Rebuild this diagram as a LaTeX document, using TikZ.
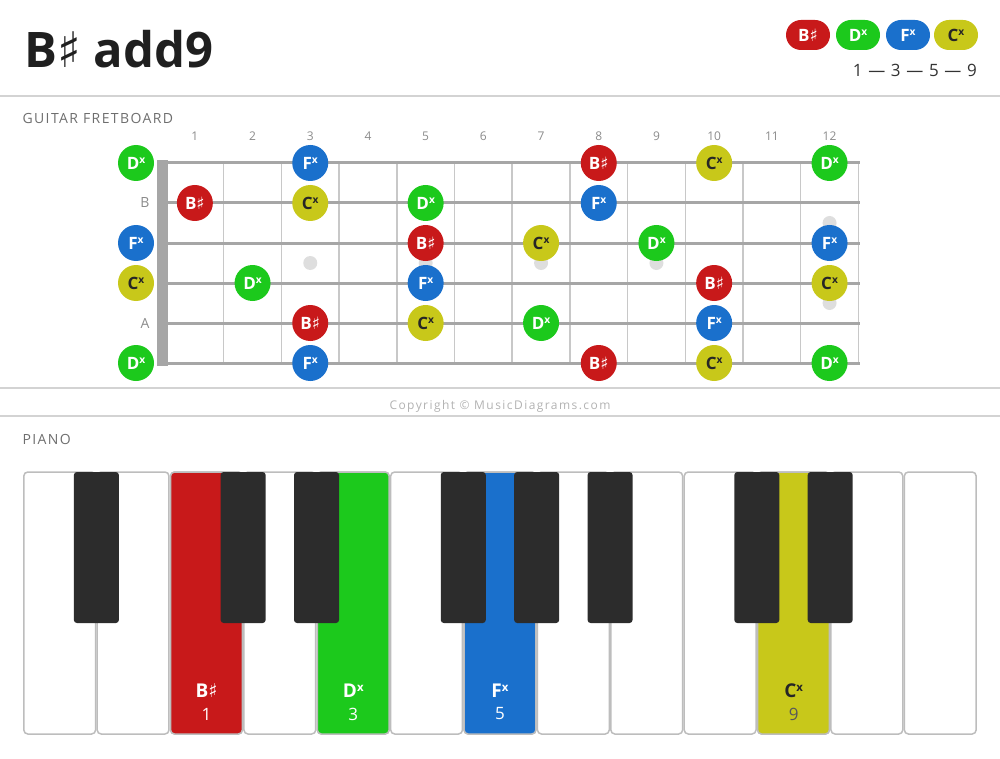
\documentclass[tikz,border=0pt]{standalone}
\usepackage{fontspec}
\setmainfont{Open Sans}
\newfontfamily\symfont{DejaVu Sans}

\definecolor{rootred}{HTML}{C8191A}
\definecolor{thirdgreen}{HTML}{1CC91C}
\definecolor{fifthblue}{HTML}{1A70CC}
\definecolor{ninthyellow}{HTML}{C8C81A}
\definecolor{rulegray}{HTML}{D3D3D3}
\definecolor{labelgray}{HTML}{6E6E6E}
\definecolor{stringgray}{HTML}{A6A6A6}
\definecolor{fretgray}{HTML}{C8C8C8}
\definecolor{keygray}{HTML}{BDBDBD}
\definecolor{blackkey}{HTML}{2C2C2C}

\newcommand{\shp}{{\symfont ♯}}
\newcommand{\dsh}{\raisebox{.6ex}{\scalebox{.6}{\bfseries x}}}

\tikzset{
  note/.style={circle, minimum size=36pt, inner sep=0pt, text=white,
    font=\fontsize{17}{17}\selectfont\bfseries},
  bnote/.style={note, fill=rootred},
  dnote/.style={note, fill=thirdgreen},
  fnote/.style={note, fill=fifthblue},
  cnote/.style={note, fill=ninthyellow, text=black!85},
  pill/.style={rounded corners=15pt, minimum width=44pt, minimum height=30pt,
    inner sep=0pt, text=white, font=\fontsize{17}{17}\selectfont\bfseries},
  fretnum/.style={text=labelgray!80, font=\fontsize{12}{12}\selectfont},
  heading/.style={anchor=west, text=labelgray,
    font=\fontsize{14}{14}\selectfont\addfontfeatures{LetterSpace=10}},
  whitekey/.style={draw=keygray, line width=1.5pt, rounded corners=4pt},
  keyname/.style={font=\fontsize{19}{19}\selectfont\bfseries, text=white},
  keynum/.style={font=\fontsize{17}{17}\selectfont, text=white}
}

\begin{document}
\begin{tikzpicture}[x=1pt, y=-1pt]
  \useasboundingbox (0,0) rectangle (1000,759);

  \node[anchor=base west, inner sep=0pt, text=black!88,
    font=\fontsize{49}{49}\selectfont\bfseries] (title) at (24,68) {B\shp{} add9};

  \node[pill, fill=rootred] (legb) at (808,35) {B\shp};
  \node[pill, fill=thirdgreen] (legd) at (858,35) {D\dsh};
  \node[pill, fill=fifthblue] (legf) at (908,35) {F\dsh};
  \node[pill, fill=ninthyellow, text=black!85] (legc) at (956,35) {C\dsh};
  \node[anchor=base east, inner sep=0pt, text=black!80,
    font=\fontsize{17}{17}\selectfont] (formula) at (977,77) {1\,\,—\,\,3\,\,—\,\,5\,\,—\,\,9};

  \draw[rulegray, line width=2pt] (0,96) -- (1000,96);
  \draw[rulegray, line width=2pt] (0,388) -- (1000,388);
  \draw[rulegray, line width=2pt] (0,416) -- (1000,416);

  \node[heading] (guitarhead) at (19,118) {GUITAR FRETBOARD};
  \node[heading] (pianohead) at (19,439) {PIANO};
  \node[text=black!30, font=\fontsize{12}{12}\selectfont\addfontfeatures{LetterSpace=12}]
    (copyright) at (500,406) {Copyright © MusicDiagrams.com};

  \foreach \k in {1,...,12}
    \draw[fretgray, line width=1.5pt] ({166+57.7*\k},163) -- ({166+57.7*\k},363);
  \foreach \k in {1,...,12}
    \node[fretnum] (fn\k) at ({166+57.7*(\k-0.5)},136) {\k};

  \fill[black!13] (310.25,263) circle (7);
  \fill[black!13] (425.65,263) circle (7);
  \fill[black!13] (541.05,263) circle (7);
  \fill[black!13] (656.45,263) circle (7);
  \fill[black!13] (829.55,223) circle (7);
  \fill[black!13] (829.55,303) circle (7);

  \foreach \s in {0,...,5}
    \draw[stringgray, line width=3pt] (157,{163+40*\s}) -- (860,{163+40*\s});
  \fill[stringgray] (157,160) rectangle (168,366);

  \node[text=labelgray!80, font=\fontsize{14}{14}\selectfont] (openb) at (145,203) {B};
  \node[text=labelgray!80, font=\fontsize{14}{14}\selectfont] (opena) at (145,323) {A};

  \node[dnote] (e1f0) at (136,163) {D\dsh};
  \node[fnote] (e1f3) at (310.25,163) {F\dsh};
  \node[bnote] (e1f8) at (598.75,163) {B\shp};
  \node[cnote] (e1f10) at (714.15,163) {C\dsh};
  \node[dnote] (e1f12) at (829.55,163) {D\dsh};

  \node[bnote] (b2f1) at (194.85,203) {B\shp};
  \node[cnote] (b2f3) at (310.25,203) {C\dsh};
  \node[dnote] (b2f5) at (425.65,203) {D\dsh};
  \node[fnote] (b2f8) at (598.75,203) {F\dsh};

  \node[fnote] (g3f0) at (136,243) {F\dsh};
  \node[bnote] (g3f5) at (425.65,243) {B\shp};
  \node[cnote] (g3f7) at (541.05,243) {C\dsh};
  \node[dnote] (g3f9) at (656.45,243) {D\dsh};
  \node[fnote] (g3f12) at (829.55,243) {F\dsh};

  \node[cnote] (d4f0) at (136,283) {C\dsh};
  \node[dnote] (d4f2) at (252.55,283) {D\dsh};
  \node[fnote] (d4f5) at (425.65,283) {F\dsh};
  \node[bnote] (d4f10) at (714.15,283) {B\shp};
  \node[cnote] (d4f12) at (829.55,283) {C\dsh};

  \node[bnote] (a5f3) at (310.25,323) {B\shp};
  \node[cnote] (a5f5) at (425.65,323) {C\dsh};
  \node[dnote] (a5f7) at (541.05,323) {D\dsh};
  \node[fnote] (a5f10) at (714.15,323) {F\dsh};

  \node[dnote] (e6f0) at (136,363) {D\dsh};
  \node[fnote] (e6f3) at (310.25,363) {F\dsh};
  \node[bnote] (e6f8) at (598.75,363) {B\shp};
  \node[cnote] (e6f10) at (714.15,363) {C\dsh};
  \node[dnote] (e6f12) at (829.55,363) {D\dsh};

  \foreach \w in {0,...,12}
    \draw[whitekey, fill=white] ({23.8+73.38*\w},472) rectangle ({22.2+73.38*(\w+1)},734);
  \draw[whitekey, fill=rootred] ({23.8+73.38*2},472) rectangle ({22.2+73.38*3},734);
  \draw[whitekey, fill=thirdgreen] ({23.8+73.38*4},472) rectangle ({22.2+73.38*5},734);
  \draw[whitekey, fill=fifthblue] ({23.8+73.38*6},472) rectangle ({22.2+73.38*7},734);
  \draw[whitekey, fill=ninthyellow] ({23.8+73.38*10},472) rectangle ({22.2+73.38*11},734);

  \foreach \b in {1,3,4,6,7,8,10,11}
    \fill[blackkey, rounded corners=3pt] ({23+73.38*\b-22.5},472) rectangle ({23+73.38*\b+22.5},623);

  \node[keyname] (keyb) at (206.5,691) {B\shp};
  \node[keynum] (numb) at (206.5,714) {1};
  \node[keyname] (keyd) at (353.3,691) {D\dsh};
  \node[keynum] (numd) at (353.3,714) {3};
  \node[keyname] (keyf) at (500,691) {F\dsh};
  \node[keynum] (numf) at (500,714) {5};
  \node[keyname, text=black!85] (keyc) at (793.6,691) {C\dsh};
  \node[keynum, text=black!65] (numc) at (793.6,714) {9};
\end{tikzpicture}
\end{document}
